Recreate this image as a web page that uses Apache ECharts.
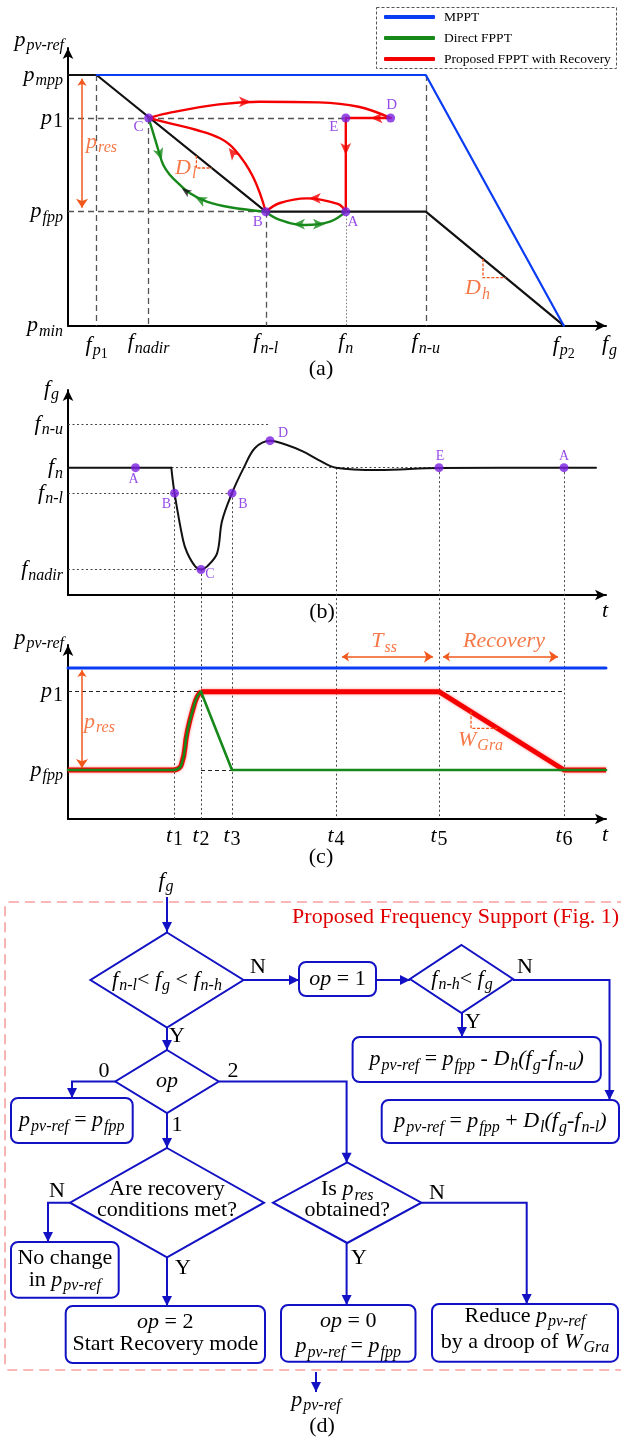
<!DOCTYPE html>
<html><head><meta charset="utf-8">
<script src="https://cdn.jsdelivr.net/npm/echarts@6/dist/echarts.min.js"></script>
<style>html,body{margin:0;padding:0;background:#fff}#c{width:621px;height:1437px}</style>
</head><body><div id="c"></div>
<script>
// ================= DATA =================
// ---- Panel (a): p_pv-ref versus f_g ----
const aFreqTicks = [49.377, 49.507, 49.80, 50.00, 50.20, 50.545];   // f_p1, f_nadir, f_n-l, f_n, f_n-u, f_p2
const aFreqLabels = ['{m|f}{s|p}{ss|1}', '{m|f}{s|nadir}', '{m|f}{s|n-l}', '{m|f}{s|n}', '{m|f}{s|n-u}', '{m|f}{s|p}{ss|2}'];
const aPowTicks = [0, 0.4547, 0.8285, 1];                            // p_min, p_fpp, p_1, p_mpp
const aPowLabels = ['{m|p}{s|min}', '{m|p}{s|fpp}', '{m|p}{su|1}', '{m|p}{s|mpp}'];
const aFreqRange = [49.3055, 50.6505];
const aPowRange = [0, 1.1077];
const aCharacteristic = [[49.3055, 1], [49.377, 1], [49.80, 0.4547], [50.20, 0.4547], [50.545, 0]];
const aMppt = [[49.377, 1], [50.20, 1], [50.545, 0]];
const aRedCtoD = [[49.507, 0.8285], [49.553, 0.847], [49.683, 0.883], [49.783, 0.8935], [49.932, 0.891], [50.032, 0.8735], [50.112, 0.8285]];
const aRedDtoE = [[50.112, 0.8285], [50.0, 0.8285]];
const aRedEtoA = [[50.0, 0.8285], [50.0, 0.4547]];
const aRedAtoB = [[50.0, 0.4547], [49.98, 0.4855], [49.9025, 0.508], [49.8355, 0.4894], [49.80, 0.4547]];
const aRedBtoC = [[49.80, 0.4547], [49.768, 0.5943], [49.723, 0.7009], [49.6855, 0.7475], [49.6273, 0.7806], [49.5605, 0.8073], [49.507, 0.8285]];
const aGreenCtoB = [[49.507, 0.8285], [49.5188, 0.7675], [49.5313, 0.7008], [49.5438, 0.641], [49.5605, 0.6011], [49.5813, 0.5679], [49.6105, 0.528], [49.6523, 0.4946], [49.7105, 0.4723], [49.80, 0.4547]];
const aGreenBtoA = [[49.80, 0.4547], [49.835, 0.4219], [49.898, 0.4016], [49.9605, 0.4149], [50.0, 0.4547]];
// arrow heads along the trajectories: [f, p, rotation in degrees]
const aRedArrows = [[49.763, 0.893, -90], [50.062, 0.8285, 90], [50.0, 0.681, 180], [49.9075, 0.5082, 90], [49.7075, 0.7088, 38]];
const aGreenArrows = [[49.5398, 0.661, -162], [49.623, 0.5146, 63], [49.868, 0.405, 90], [49.948, 0.405, -90]];
const aBlackArrows = [[49.5898, 0.548, 55]];
// operating points: [name, f, p]
const aPoints = [['C', 49.507, 0.8285], ['E', 50.0, 0.8285], ['D', 50.112, 0.8285], ['B', 49.80, 0.4547], ['A', 50.0, 0.4547]];
// annotations
const aResArrow = [[49.3405, 0.985], [49.3405, 0.47]];
const aDlMark = [[49.6265, 0.6784], [49.6265, 0.629], [49.6648, 0.629]];
const aDhMark = [[50.343, 0.2662], [50.343, 0.1915], [50.3997, 0.1915]];
const aNotes = [['{m|p}{s|res}', 49.3505, 0.7328], ['{m|D}{s|l}', 49.573, 0.628], ['{m|D}{s|h}', 50.298, 0.149]];

// ---- Panel (b): f_g versus t ----
const tRange = [0, 10];
const tTicks = [1.98, 2.472, 3.048, 4.981, 6.896, 9.219];          // t1 .. t6
const tLabels = ['{m|t}{su|1}', '{m|t}{su|2}', '{m|t}{su|3}', '{m|t}{su|4}', '{m|t}{su|5}', '{m|t}{su|6}'];
const bFreqTicks = [49.2, 49.8, 50.0, 50.343];                       // f_nadir, f_n-l, f_n, f_n-u
const bFreqLabels = ['{m|f}{s|nadir}', '{m|f}{s|n-l}', '{m|f}{s|n}', '{m|f}{s|n-u}'];
const bFreqRange = [49.0, 50.61];
const bFreqFlat = [[0, 50.0], [1.92, 50.0]];
const bFreqDip = [[1.92, 50.0], [1.98, 49.8], [2.138, 49.432], [2.217, 49.33], [2.364, 49.225], [2.472, 49.2], [2.587, 49.225], [2.771, 49.327], [2.862, 49.58], [3.048, 49.8], [3.268, 50.0], [3.476, 50.155], [3.755, 50.212], [4.069, 50.178], [4.364, 50.128], [4.66, 50.06], [4.981, 50.0], [5.771, 49.982], [6.896, 49.998], [9.219, 50.0], [9.814, 50.0]];
const bPoints = [['A', 1.255, 50.0], ['B', 1.98, 49.8], ['C', 2.472, 49.2], ['B', 3.048, 49.8], ['D', 3.755, 50.212], ['E', 6.896, 50.0], ['A', 9.219, 50.0]];

// ---- Panel (c): p_pv-ref versus t ----
const cPowTicks = [0.4547, 0.8733, 1];                               // p_fpp, p_1, p_mpp
const cPowLabels = ['{m|p}{s|fpp}', '{m|p}{su|1}', '{m|p}{s|mpp}'];
const cPowRange = [0.1927, 1.123];
const cMppt = [[0, 1], [10, 1]];
const cFlatStart = [[0, 0.4547], [1.98, 0.4547]];
const cRise = [[1.98, 0.4547], [2.106, 0.4814], [2.217, 0.6595], [2.327, 0.7846], [2.401, 0.8466], [2.472, 0.8733]];
const cRedHold = [[2.472, 0.8733], [6.896, 0.8733], [9.219, 0.4547], [10, 0.4547]];
const cGreenFall = [[2.472, 0.8733], [3.048, 0.4547], [10, 0.4547]];
const cResArrow = [[0.26, 0.99], [0.26, 0.465]];
const cTssArrow = [[5.093, 1.06], [6.784, 1.06]];
const cRecArrow = [[6.97, 1.06], [9.108, 1.06]];
const cWMark = [[7.491, 0.7661], [7.491, 0.6776], [7.982, 0.6776]];
const cNotes = [['{m|p}{s|res}', 0.297, 0.7113, 'left'], ['{m|T}{s|ss}', 5.874, 1.1406, 'center'], ['{m|Recovery}', 8.104, 1.144, 'center'], ['{m|W}{s|Gra}', 7.249, 0.615, 'left']];

// ---- Panel (d): flowchart texts ----
const flowTexts = {
  input: '{m|f}{s|g}',
  cond1: '{m|f}{s|n-l}{r|< }{m|f}{s|g}{r| < }{m|f}{s|n-h}',
  op1: '{m|op}{r| = 1}',
  cond2: '{m|f}{s|n-h}{r|< }{m|f}{s|g}',
  high: '{m|p}{s|pv-ref}{r| = }{m|p}{s|fpp}{r| - }{m|D}{s|h}{m|(f}{s|g}{m|-f}{s|n-u}{m|)}',
  low: '{m|p}{s|pv-ref}{r| = }{m|p}{s|fpp}{r| + }{m|D}{s|l}{m|(f}{s|g}{m|-f}{s|n-l}{m|)}',
  opq: '{m|op}',
  fpp: '{m|p}{s|pv-ref}{r| = }{m|p}{s|fpp}',
  recq: '{r|Are recovery}\n{r|conditions met?}',
  nochg: '{r|No change}\n{r|in }{m|p}{s|pv-ref}',
  op2: '{m|op}{r| = 2}\n{r|Start Recovery mode}',
  resq: '{r|Is }{m|p}{s|res}\n{r|obtained?}',
  op0: '{m|op}{r| = 0}\n{m|p}{s|pv-ref}{r| = }{m|p}{s|fpp}',
  reduce: '{r|Reduce }{m|p}{s|pv-ref}\n{r|by a droop of }{m|W}{s|Gra}',
  output: '{m|p}{s|pv-ref}',
  title: 'Proposed Frequency Support (Fig. 1)'
};
const legendNames = ['MPPT', 'Direct FPPT', 'Proposed FPPT with Recovery'];

// ================= STYLE / LAYOUT =================
const FONT = '"Liberation Serif","Times New Roman",serif';
const C_BLUE = '#0a3cf2', C_GREEN = '#17891a', C_RED = '#f50000', C_ORANGE = '#f2581c', C_PURPLE = '#7a1fe0', C_FLOW = '#1212c4';
function mkRich(c, M) {
  M = M || 22; const S = 16;
  return {
    m: {fontFamily: FONT, fontStyle: 'italic', fontSize: M, color: c},
    s: {fontFamily: FONT, fontStyle: 'italic', fontSize: S, color: c, padding: [12, 0, 0, 1]},
    su: {fontFamily: FONT, fontSize: M - 2, color: c, padding: [8, 0, 0, 1]},
    ss: {fontFamily: FONT, fontSize: 14, color: c, padding: [19, 0, 0, 0]},
    r: {fontFamily: FONT, fontSize: M, color: c}
  };
}
const RICH = mkRich('#000');
const RICH_O = mkRich(C_ORANGE);
const frames = [
  {left: 68, right: 15, top: 48, bottom: 1111.3},
  {left: 68, right: 15, top: 390, bottom: 842},
  {left: 68, right: 15, top: 645, bottom: 618}
];
const H = 1437;
// value of f in panel (b) that reaches the t-axis of panel (c) (for the long dotted guides)
const bPxPerUnit = (H - frames[1].bottom - frames[1].top) / (bFreqRange[1] - bFreqRange[0]);
const F_EXT = bFreqRange[0] - ((H - frames[2].bottom) - (H - frames[1].bottom)) / bPxPerUnit;

function nearest(arr, v) { let k = 0; for (let i = 1; i < arr.length; i++) if (Math.abs(arr[i] - v) < Math.abs(arr[k] - v)) k = i; return k; }
const axisLine = {show: true, onZero: false, lineStyle: {color: '#000', width: 2}, symbol: ['none', 'arrow'], symbolSize: [8, 11]};
function mkX(gi, range, ticks, labels, name) {
  return {gridIndex: gi, type: 'value', min: range[0], max: range[1], axisLine, axisTick: {show: false}, splitLine: {show: false},
    axisLabel: labels ? {show: true, customValues: ticks, formatter: v => labels[nearest(ticks, v)], rich: RICH, margin: 3, color: '#000'} : {show: false},
    name, nameLocation: 'end', nameGap: -4, nameMoveOverlap: false,
    nameTextStyle: {rich: RICH, align: 'left', verticalAlign: 'top', padding: [5, 0, 0, 0]}};
}
function mkY(gi, range, ticks, labels, name, gap, padR) {
  return {gridIndex: gi, type: 'value', min: range[0], max: range[1], axisLine, axisTick: {show: false}, splitLine: {show: false},
    axisLabel: {show: true, customValues: ticks, formatter: v => labels[nearest(ticks, v)], rich: RICH, margin: 5, color: '#000'},
    name, nameLocation: 'end', nameGap: gap, nameMoveOverlap: false,
    nameTextStyle: {rich: RICH, align: 'right', verticalAlign: 'middle', padding: [0, padR, 0, 0]}};
}
const base = {silent: true, animation: false, clip: false};
function lineS(name, data, gi, color, width, extra) {
  return Object.assign({type: 'line', name: name || undefined, xAxisIndex: gi, yAxisIndex: gi, data, symbol: 'none', showSymbol: false,
    lineStyle: {color, width, cap: 'round', join: 'round'}, itemStyle: {color}, z: 4}, base, extra || {});
}
function segS(list, gi, style, extra) {
  return Object.assign({type: 'lines', coordinateSystem: 'cartesian2d', xAxisIndex: gi, yAxisIndex: gi,
    data: list.map(c => ({coords: c})), lineStyle: Object.assign({opacity: 1, curveness: 0}, style), symbol: 'none', z: 1}, base, extra || {});
}
function arrowS(list, gi, color, size) {
  return Object.assign({type: 'scatter', xAxisIndex: gi, yAxisIndex: gi, symbol: 'arrow', symbolSize: size || [8, 12],
    data: list.map(a => ({value: [a[0], a[1]], symbolRotate: a[2]})), itemStyle: {color}, z: 8}, base);
}
function pointsS(list, gi, offsets, fs) {
  return Object.assign({type: 'scatter', xAxisIndex: gi, yAxisIndex: gi, symbol: 'circle', symbolSize: 9, itemStyle: {color: C_PURPLE}, z: 9,
    data: list.map((p, i) => ({value: [p[1], p[2]], label: {show: true, position: 'inside', offset: offsets[i], formatter: p[0], color: C_PURPLE, fontFamily: FONT, fontSize: fs}}))}, base);
}
function notesS(list, gi) {
  return Object.assign({type: 'scatter', xAxisIndex: gi, yAxisIndex: gi, symbolSize: 1, itemStyle: {color: 'rgba(0,0,0,0)'}, z: 9,
    data: list.map(n => ({value: [n[1], n[2]], label: {show: true, position: 'inside', align: n[3] || 'left', verticalAlign: 'middle', formatter: n[0], rich: RICH_O}}))}, base);
}
const RED_N = legendNames[2], GREEN_N = legendNames[1], BLUE_N = legendNames[0];
const [FP1, FNADIR, FNL, FN, FNU, FP2] = aFreqTicks;
const [PMIN, PFPP, P1, PMPP] = aPowTicks;
const [T1, T2, T3, T4, T5, T6] = tTicks;
const [BNADIR, BNL, BN, BNU] = bFreqTicks;
const [CFPP, CP1, CMPP] = cPowTicks;

const series = [];
// ---- (a)
series.push(segS([
  [[FP1, PMPP], [FP1, PMIN]], [[FNADIR, P1], [FNADIR, PMIN]], [[FNL, PFPP], [FNL, PMIN]], [[FNU, PMPP], [FNU, PMIN]],
  [[aFreqRange[0], P1], [FN, P1]], [[aFreqRange[0], PFPP], [FNL, PFPP]]
], 0, {color: '#555', width: 1.3, type: [6, 4]}));
series.push(segS([[[FN, PFPP], [FN, PMIN]]], 0, {color: '#777', width: 1, type: [1.5, 2]}));
series.push(lineS(null, aCharacteristic, 0, '#111', 2.2, {z: 2}));
series.push(lineS(BLUE_N, aMppt, 0, C_BLUE, 2.2, {z: 3}));
series.push(lineS(RED_N, aRedCtoD, 0, C_RED, 2.4, {smooth: 0.4}));
series.push(lineS(RED_N, aRedDtoE, 0, C_RED, 2.4));
series.push(lineS(RED_N, aRedEtoA, 0, C_RED, 2.4));
series.push(lineS(RED_N, aRedAtoB, 0, C_RED, 2.4, {smooth: 0.4}));
series.push(lineS(RED_N, aRedBtoC, 0, C_RED, 2.4, {smooth: 0.4}));
series.push(lineS(GREEN_N, aGreenCtoB, 0, C_GREEN, 2.4, {smooth: 0.4}));
series.push(lineS(GREEN_N, aGreenBtoA, 0, C_GREEN, 2.4, {smooth: 0.4}));
series.push(arrowS(aRedArrows, 0, C_RED));
series.push(arrowS(aGreenArrows, 0, C_GREEN));
series.push(arrowS(aBlackArrows, 0, '#111', [6, 10]));
series.push(pointsS(aPoints, 0, [[-10, 9], [-12, 9], [1, -13], [-8, 10], [7, 10]], 15));
series.push(segS([aResArrow], 0, {color: C_ORANGE, width: 1.5}, {symbol: ['arrow', 'arrow'], symbolSize: [7, 9], z: 5}));
series.push(segS([aDlMark, aDhMark], 0, {color: C_ORANGE, width: 1.3, type: [3, 1.5]}, {polyline: true, z: 5}));
series.push(notesS(aNotes, 0));
// ---- (b)
series.push(segS([
  [[tRange[0], BNU], [3.755, BNU]], [[tRange[0], BN], [9.814, BN]], [[tRange[0], BNL], [T3, BNL]], [[tRange[0], BNADIR], [T2, BNADIR]]
], 1, {color: '#444', width: 1, type: [2, 2.5]}));
series.push(segS([
  [[T1, BNL], [T1, F_EXT]], [[T2, BNADIR], [T2, F_EXT]], [[T3, BNL], [T3, F_EXT]],
  [[T4, BN], [T4, F_EXT]], [[T5, BN], [T5, F_EXT]], [[T6, BN], [T6, F_EXT]]
], 1, {color: '#444', width: 1, type: [2, 2.5]}));
series.push(lineS(null, bFreqFlat, 1, '#111', 2));
series.push(lineS(null, bFreqDip, 1, '#111', 2, {smooth: 0.35}));
series.push(pointsS(bPoints, 1, [[-2, 12], [-8, 11], [9, 5], [11, 11], [13, -7], [1, -11], [0, -11]], 14));
// ---- (c)
series.push(segS([[[tRange[0], CP1], [T6, CP1]], [[T2, CFPP], [T6, CFPP]]], 2, {color: '#222', width: 1.2, type: [4, 3]}));
series.push(lineS(BLUE_N, cMppt, 2, C_BLUE, 3));
series.push(lineS(RED_N, cFlatStart, 2, C_RED, 5, {lineStyle: {color: C_RED, width: 5, shadowColor: 'rgba(255,0,0,0.45)', shadowBlur: 3}}));
series.push(lineS(RED_N, cRise, 2, C_RED, 5, {smooth: 0.5, lineStyle: {color: C_RED, width: 5, shadowColor: 'rgba(255,0,0,0.45)', shadowBlur: 3}}));
series.push(lineS(RED_N, cRedHold, 2, C_RED, 5, {lineStyle: {color: C_RED, width: 5, shadowColor: 'rgba(255,0,0,0.45)', shadowBlur: 3}}));
series.push(lineS(GREEN_N, cFlatStart, 2, C_GREEN, 2.6, {z: 5}));
series.push(lineS(GREEN_N, cRise, 2, C_GREEN, 2.6, {smooth: 0.5, z: 5}));
series.push(lineS(GREEN_N, cGreenFall, 2, C_GREEN, 2.6, {z: 5}));
series.push(segS([cResArrow, cTssArrow, cRecArrow], 2, {color: C_ORANGE, width: 1.5}, {symbol: ['arrow', 'arrow'], symbolSize: [7, 9], z: 5}));
series.push(segS([cWMark], 2, {color: C_ORANGE, width: 1.3, type: [3, 1.5]}, {polyline: true, z: 5}));
series.push(notesS(cNotes, 2));

// ================= FLOWCHART (graphic) =================
const g = [];
function head(x, y, dir) {
  const L = 10, W = 5;
  const p = {down: [[x, y], [x - W, y - L], [x + W, y - L]], right: [[x, y], [x - L, y - W], [x - L, y + W]], left: [[x, y], [x + L, y - W], [x + L, y + W]]}[dir];
  return {type: 'polygon', shape: {points: p}, style: {fill: C_FLOW}, z: 20, silent: true};
}
function flow(pts) {
  g.push({type: 'polyline', shape: {points: pts}, style: {stroke: C_FLOW, lineWidth: 2, fill: null}, z: 19, silent: true});
  const [x, y] = pts[pts.length - 1], [px, py] = pts[pts.length - 2];
  g.push(head(x, y, x > px ? 'right' : x < px ? 'left' : 'down'));
}
function diamond(cx, cy, hw, hh) {
  g.push({type: 'polygon', shape: {points: [[cx, cy - hh], [cx + hw, cy], [cx, cy + hh], [cx - hw, cy]]}, style: {stroke: C_FLOW, lineWidth: 2, fill: '#fff'}, z: 18, silent: true});
}
function box(x1, y1, x2, y2) {
  g.push({type: 'rect', shape: {x: x1, y: y1, width: x2 - x1, height: y2 - y1, r: 7}, style: {stroke: C_FLOW, lineWidth: 2, fill: '#fff'}, z: 18, silent: true});
}
function txt(x, y, t, align, lh) {
  g.push({type: 'text', x, y, z: 21, silent: true, style: {text: t, rich: RICH, align: align || 'center', verticalAlign: 'middle', fill: '#000', font: '22px ' + FONT, lineHeight: lh}});
}
function plain(x, y, t) { txt(x, y, '{r|' + t + '}'); }

g.push({type: 'rect', shape: {x: 5, y: 902, width: 640, height: 468, r: 4}, style: {stroke: '#f7a0a0', lineWidth: 1.6, lineDash: [10, 6], fill: null}, z: 10, silent: true});
g.push({type: 'text', x: 619, y: 917, z: 21, silent: true, style: {text: flowTexts.title, fill: '#e00000', font: '22px ' + FONT, align: 'right', verticalAlign: 'middle'}});
txt(166, 881, flowTexts.input);
flow([[167, 897], [167, 932]]);
diamond(167, 980, 76.5, 47.5); txt(167, 980, flowTexts.cond1);
plain(258, 967, 'N');
flow([[244, 980], [299, 980]]);
box(299, 962, 376, 996); txt(337.5, 979, flowTexts.op1);
flow([[376, 980], [410, 980]]);
diamond(461.5, 979, 51.5, 34); txt(462, 979, flowTexts.cond2);
plain(525, 967, 'N');
flow([[513, 980], [609.5, 980], [609.5, 1100]]);
plain(473, 1022, 'Y');
flow([[462, 1013], [462, 1037]]);
box(352.6, 1037, 600.8, 1082); txt(476.7, 1059.5, flowTexts.high);
box(381.7, 1100, 619, 1143); txt(500.4, 1121.5, flowTexts.low);
plain(177, 1036, 'Y');
flow([[167, 1027], [167, 1050]]);
diamond(167, 1081.5, 51.7, 31.5); txt(167, 1081.5, flowTexts.opq);
plain(104, 1071, '0');
flow([[115.5, 1081.5], [72, 1081.5], [72, 1098]]);
box(11, 1098, 132.7, 1143); txt(71.8, 1120.5, flowTexts.fpp);
plain(233, 1071, '2');
flow([[219, 1081.5], [346.6, 1081.5], [346.6, 1162.7]]);
plain(177, 1125, '1');
flow([[167, 1113], [167, 1148]]);
diamond(167, 1202.7, 97, 54.7); txt(167, 1200, flowTexts.recq, 'center', 21);
plain(57, 1191, 'N');
flow([[70, 1202.7], [48, 1202.7], [48, 1242]]);
box(11, 1242, 118.7, 1297.7); txt(64.8, 1269, flowTexts.nochg, 'center', 22);
plain(183, 1268, 'Y');
flow([[167, 1257.4], [167, 1306]]);
box(65.7, 1306, 265, 1363); txt(165.3, 1333, flowTexts.op2, 'center', 22);
diamond(347.2, 1202.7, 74.2, 40.3); txt(347.2, 1200, flowTexts.resq, 'center', 21);
plain(437, 1193, 'N');
flow([[421.5, 1202.7], [526.7, 1202.7], [526.7, 1304]]);
plain(359, 1258, 'Y');
flow([[346.6, 1243], [346.6, 1305]]);
box(281, 1305, 415.5, 1361.7); txt(348.2, 1334, flowTexts.op0, 'center', 25);
box(432, 1304, 618, 1361.7); txt(525, 1329, flowTexts.reduce, 'center', 26);
flow([[316, 1372], [316, 1392]]);
txt(316, 1400, flowTexts.output);
// captions
[['(a)', 321, 369], ['(b)', 322, 612], ['(c)', 321, 857], ['(d)', 322, 1426]].forEach(c => plain(c[1], c[2], c[0]));
// legend frame
g.push({type: 'rect', shape: {x: 376.5, y: 7.5, width: 240, height: 61}, style: {stroke: '#555', lineWidth: 1, lineDash: [3, 2], fill: '#fff'}, z: 0, silent: true});

const option = {
  animation: false,
  backgroundColor: '#fff',
  grid: frames.map(f => Object.assign({containLabel: false, outerBoundsMode: 'none'}, f)),
  xAxis: [mkX(0, aFreqRange, aFreqTicks, aFreqLabels, '{m|f}{s|g}'), mkX(1, tRange, tTicks, null, '{m|t}'), mkX(2, tRange, tTicks, tLabels, '{m|t}')],
  yAxis: [mkY(0, aPowRange, aPowTicks, aPowLabels, '{m|p}{s|pv-ref}', 8, 4), mkY(1, bFreqRange, bFreqTicks, bFreqLabels, '{m|f}{s|g}', 1, 9), mkY(2, cPowRange, cPowTicks, cPowLabels, '{m|p}{s|pv-ref}', 7, 4)],
  legend: {data: legendNames, orient: 'vertical', left: 384, top: 10, itemWidth: 51, itemHeight: 4, itemGap: 7, icon: 'roundRect', selectedMode: false, padding: 0,
    textStyle: {fontFamily: FONT, fontSize: 13.5, color: '#000', lineHeight: 14, padding: [0, 0, 0, 4]}, z: 30},
  series,
  graphic: {elements: g}
};
const chart = echarts.init(document.getElementById('c'), null, {renderer: 'canvas', width: 621, height: 1437});
chart.setOption(option);
</script></body></html>
